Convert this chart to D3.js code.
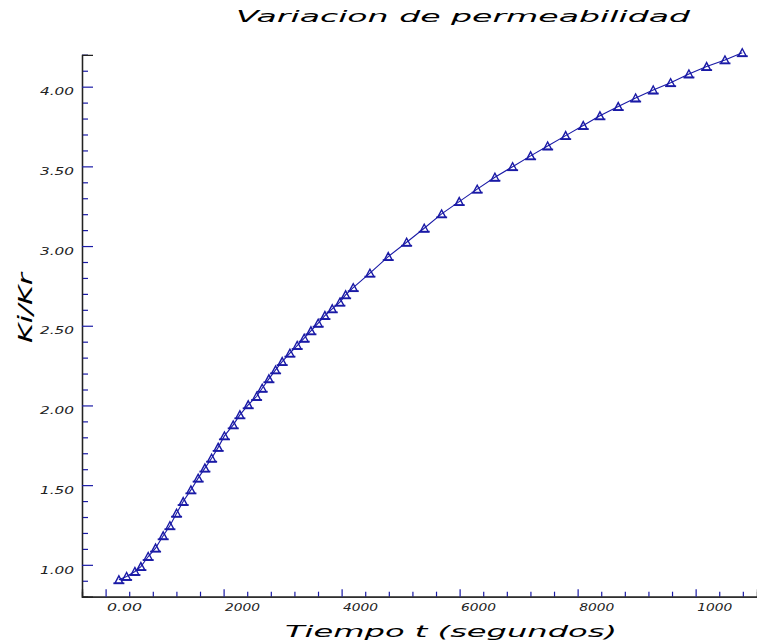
<!DOCTYPE html>
<head>
    <meta charset="utf-8">
    <title>Variacion de permeabilidad</title>
    <script type="text/javascript" src="https://d3js.org/d3.v7.min.js"></script>
    <style>
        body { margin: 0; background: #fff; }
        text { font-family: "DejaVu Sans", sans-serif; }
    </style>
</head>
<body>
<div id="container"></div>
<script>
    //----------------------------DATA-------------------------------//
    const timeSec = [225, 356, 497, 598, 722, 847, 976, 1090, 1203, 1315, 1446, 1569, 1683, 1797,
        1908, 2014, 2163, 2276, 2417, 2559, 2654, 2768, 2881, 2993, 3124, 3247, 3366, 3480, 3603,
        3717, 3841, 3971, 4068, 4197, 4480, 4790, 5102, 5400, 5695, 5993, 6298, 6598, 6898, 7203,
        7492, 7797, 8095, 8378, 8688, 8983, 9281, 9576, 9886, 10186, 10497, 10790];
    const kiKr = [0.906, 0.927, 0.958, 0.989, 1.052, 1.105, 1.182, 1.245, 1.324, 1.397, 1.470, 1.544,
        1.607, 1.669, 1.737, 1.809, 1.878, 1.941, 2.004, 2.056, 2.108, 2.167, 2.223, 2.275, 2.328,
        2.376, 2.422, 2.468, 2.516, 2.564, 2.606, 2.648, 2.694, 2.739, 2.830, 2.934, 3.024, 3.112,
        3.202, 3.279, 3.357, 3.432, 3.498, 3.566, 3.628, 3.693, 3.756, 3.817, 3.875, 3.929, 3.979,
        4.025, 4.080, 4.126, 4.168, 4.213];

    const xTicks = [0, 2000, 4000, 6000, 8000, 10000];
    const xTickLabels = ["0.00", "2000", "4000", "6000", "8000", "1000"];
    const yTicks = [1.0, 1.5, 2.0, 2.5, 3.0, 3.5, 4.0];
    const yTickLabels = ["1.00", "1.50", "2.00", "2.50", "3.00", "3.50", "4.00"];

    const title = "Variacion de permeabilidad";
    const xTitle = "Tiempo t (segundos)";
    const yTitle = "Ki/Kr";

    const points = timeSec.map((t, i) => ({t: t, v: kiKr[i]}));

    //----------------------------SVG--------------------------------//
    const width = 757, height = 641;
    const blue = "#1a1aa6";

    const svg = d3.select("div#container").append("svg")
        .attr("width", width)
        .attr("height", height)
        .style("background", "#fff");

    //---------------------------SCALES------------------------------//
    const xScale = d3.scaleLinear().domain([-400, 11040]).range([82, 757]);
    const yScale = d3.scaleLinear().domain([0.8, 4.2]).range([596.7, 54.8]);

    //----------------------------AXES-------------------------------//
    const xMinor = d3.range(400, 10801, 400).filter(d => d % 2000 !== 0);
    const yMinor = d3.range(9, 43).map(d => d / 10).filter(d => !yTicks.includes(d));

    // minor ticks, no labels
    svg.append("g")
        .attr("class", "axis")
        .attr("transform", `translate(0, ${yScale(0.8)})`)
        .call(d3.axisBottom(xScale).tickValues(xMinor).tickSize(-5).tickFormat(""));
    svg.append("g")
        .attr("class", "axis")
        .attr("transform", `translate(${xScale(-400)}, 0)`)
        .call(d3.axisLeft(yScale).tickValues(yMinor).tickSize(-6).tickFormat(""));

    // major ticks with labels
    const xAxis = svg.append("g")
        .attr("class", "axis")
        .attr("transform", `translate(0, ${yScale(0.8)})`)
        .call(d3.axisBottom(xScale).tickValues(xTicks).tickSize(-7.5)
            .tickFormat((d, i) => xTickLabels[i]));
    xAxis.selectAll(".tick text")
        .attr("text-anchor", "start")
        .attr("x", 1)
        .attr("y", 7)
        .attr("textLength", 35)
        .attr("lengthAdjust", "spacingAndGlyphs");

    const yAxis = svg.append("g")
        .attr("class", "axis")
        .attr("transform", `translate(${xScale(-400)}, 0)`)
        .call(d3.axisLeft(yScale).tickValues(yTicks).tickSize(-11)
            .tickFormat((d, i) => yTickLabels[i]));
    yAxis.selectAll(".tick text")
        .attr("x", -8)
        .attr("y", 5)
        .attr("textLength", 34)
        .attr("lengthAdjust", "spacingAndGlyphs");

    svg.selectAll(".axis path.domain").attr("stroke", "#222").attr("stroke-width", 1.3);
    svg.selectAll(".axis .tick line").attr("stroke", blue).attr("stroke-width", 1.2);
    svg.selectAll(".axis .tick text")
        .attr("fill", "#222")
        .style("font-size", "10px")
        .style("font-style", "italic");

    //---------------------------TITLES------------------------------//
    svg.append("text")
        .attr("x", 236).attr("y", 22)
        .attr("textLength", 454)
        .attr("lengthAdjust", "spacingAndGlyphs")
        .style("font-size", "16px")
        .style("font-style", "italic")
        .text(title);

    svg.append("text")
        .attr("x", 285).attr("y", 637)
        .attr("textLength", 332)
        .attr("lengthAdjust", "spacingAndGlyphs")
        .style("font-size", "16px")
        .style("font-style", "italic")
        .text(xTitle);

    svg.append("text")
        .attr("transform", "translate(32, 343) rotate(-90)")
        .attr("textLength", 70)
        .attr("lengthAdjust", "spacingAndGlyphs")
        .style("font-size", "20px")
        .style("font-style", "italic")
        .text(yTitle);

    //----------------------------LINE-------------------------------//
    const line = d3.line()
        .x(d => xScale(d.t))
        .y(d => yScale(d.v));

    svg.append("path")
        .datum(points)
        .attr("d", line)
        .attr("fill", "none")
        .attr("stroke", blue)
        .attr("stroke-width", 1.1);

    //---------------------------MARKERS-----------------------------//
    const markers = svg.selectAll(".marker")
        .data(points)
        .enter()
        .append("g")
        .attr("class", "marker")
        .attr("transform", d => `translate(${xScale(d.t)}, ${yScale(d.v)})`);

    markers.append("path")
        .attr("d", "M-4,3.5 L0,-4 L4,3.5 Z")
        .attr("fill", "none")
        .attr("stroke", blue)
        .attr("stroke-width", 1.4);
    markers.append("path")
        .attr("d", "M-5.5,3.5 H5.5")
        .attr("stroke", blue)
        .attr("stroke-width", 1.8);
</script>
</body>
